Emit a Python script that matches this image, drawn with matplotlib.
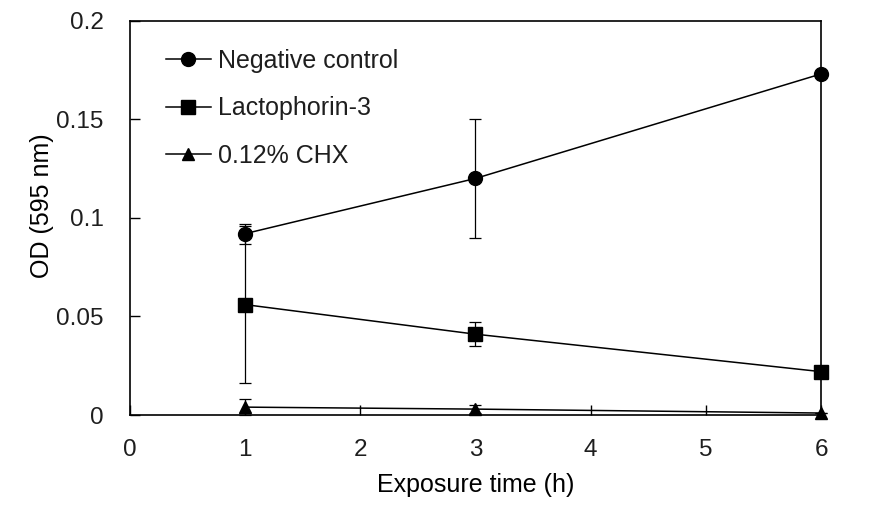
import numpy as np
import matplotlib.pyplot as plt

plt.rcParams['font.family'] = ['Liberation Sans', 'DejaVu Sans']
plt.rcParams['text.color'] = '#1e1e1e'
plt.rcParams['xtick.labelcolor'] = '#1e1e1e'
plt.rcParams['ytick.labelcolor'] = '#1e1e1e'

# data
hours = [1, 3, 6]
neg_control = [0.092, 0.120, 0.173]
neg_err = [0.005, 0.030, 0.0]
lactophorin = [0.056, 0.041, 0.022]
lacto_err = [0.040, 0.006, 0.0]
chx = [0.004, 0.003, 0.001]
chx_err = [0.004, 0.002, 0.0]

fig = plt.figure(figsize=(8.7, 5.13), dpi=100)
ax = fig.add_axes([0.1494, 0.191, 0.7943, 0.7686])

series = [
    (neg_control, neg_err, 'o', 10, 'Negative control'),
    (lactophorin, lacto_err, 's', 9.5, 'Lactophorin-3'),
    (chx, chx_err, '^', 8, '0.12% CHX'),
]
for vals, err, mk, ms, lab in series:
    ax.errorbar(hours, vals, yerr=err, color='black', marker=mk, markersize=ms,
                linewidth=1.1, elinewidth=0.9, capsize=4, capthick=0.9,
                label=lab, clip_on=False, zorder=3)

ax.set_xlim(0, 6)
ax.set_ylim(0, 0.2)
ax.set_xticks(range(0, 7))
ax.set_yticks([0, 0.05, 0.1, 0.15, 0.2])
ax.set_yticklabels(['0', '0.05', '0.1', '0.15', '0.2'])
ax.tick_params(direction='in', length=7, width=1, labelsize=17.5)
ax.tick_params(axis='y', pad=19)
ax.tick_params(axis='x', pad=17)
for s in ax.spines.values():
    s.set_linewidth(1.2)

ax.set_xlabel('Exposure time (h)', fontsize=18, labelpad=9)
ax.set_ylabel('OD (595 nm)', fontsize=18)
ax.yaxis.set_label_coords(-0.11, 0.53)

handles, labels = ax.get_legend_handles_labels()
handles = [h[0] for h in handles]
ax.legend(handles, labels, loc='upper left', frameon=False, fontsize=18,
          handlelength=1.8, handletextpad=0.28, labelspacing=0.93,
          bbox_to_anchor=(0.019, 0.985))

fig.savefig('out.png', dpi=100)
